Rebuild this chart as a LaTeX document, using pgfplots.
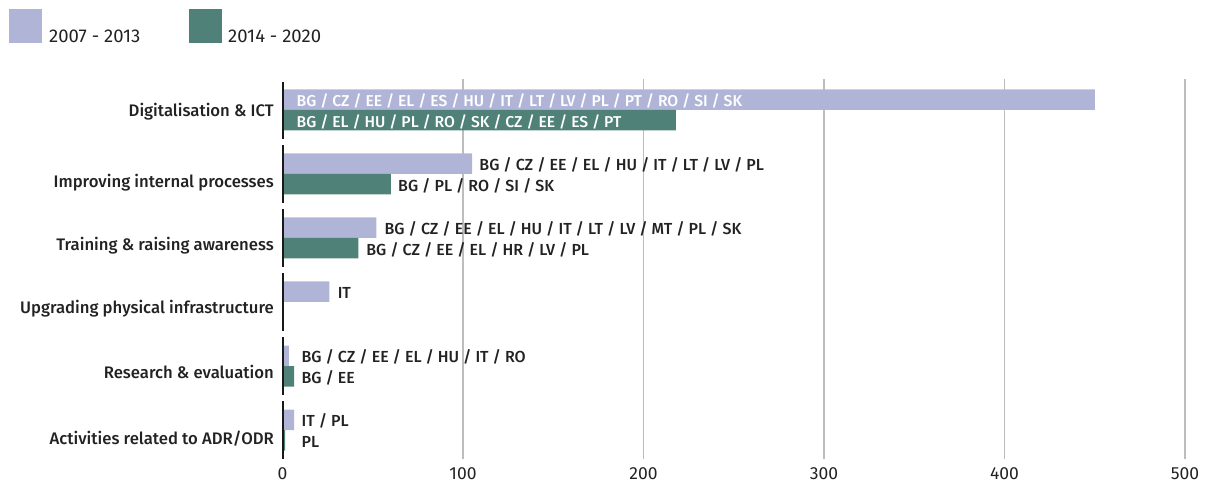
\documentclass[border=0pt]{standalone}
\usepackage{fontspec}
\setmainfont{Fira Sans}
\newfontfamily\medfont{Fira Sans Medium}
\usepackage{pgfplots}
\pgfplotsset{compat=1.18}
\definecolor{lightbar}{HTML}{B0B5D8}
\definecolor{darkbar}{HTML}{4F8179}
\definecolor{txt}{HTML}{222222}
\definecolor{gridc}{HTML}{BDBDBD}
\newcommand{\lab}{\medfont\fontsize{16}{18}\selectfont}
\newcommand{\wlab}{\medfont\fontsize{15.7}{18}\selectfont}
\newcommand{\cat}{\medfont\fontsize{16.7}{18}\selectfont}
\newcommand{\leg}{\fontsize{18.5}{20}\selectfont}
\newcommand{\tck}{\fontsize{17.5}{20}\selectfont}

\begin{document}
\begin{tikzpicture}[x=1pt,y=1pt]
\useasboundingbox (0,0) rectangle (1209,483);
% legend
\fill[lightbar] (9.3,440.3) rectangle (42.3,473.7);
\node[anchor=base west, inner sep=0pt, text=txt, font=\leg] at (49,440.7) {2007 - 2013};
\fill[darkbar] (189,440.3) rectangle (221.5,473.7);
\node[anchor=base west, inner sep=0pt, text=txt, font=\leg] at (228,440.7) {2014 - 2020};

\begin{axis}[
  at={(282.5pt,24pt)}, anchor=south west,
  scale only axis, width=902.5pt, height=380pt,
  xmin=0, xmax=500, ymin=-0.453, ymax=5.484,
  axis line style={draw=none},
  major tick length=0pt,
  xtick={100,200,300,400,500},
  extra x ticks={0}, extra x tick style={grid=none},
  xmajorgrids, grid style={gridc, line width=1.2pt},
  ytick={-0.234,0.797,1.828,2.797,3.781,4.898},
  yticklabels={Activities related to ADR/ODR, Research \& evaluation, Upgrading physical infrastructure, Training \& raising awareness, Improving internal processes, Digitalisation \& ICT},
  yticklabel style={anchor=base east, inner sep=0pt, xshift=-8.5pt, font=\cat},
  xticklabel style={anchor=base, inner sep=0pt, yshift=-20pt, font=\tck},
  tick label style={text=txt},
  /pgf/number format/assume math mode=true,
  clip=false,
]
% bars
\addplot[xbar, bar width=20.5pt, bar shift=10.25pt, fill=lightbar, draw=none]
  coordinates {(450,5) (105,4) (52,3) (26,2) (3.5,1) (6.5,0)};
\addplot[xbar, bar width=20.5pt, bar shift=-10.25pt, fill=darkbar, draw=none]
  coordinates {(218,5) (60,4) (42,3) (0,2) (6.5,1) (1.5,0)};

% broken left axis line, one piece per group
\draw[black!90, line width=2pt] (axis cs:0,4.55) -- (axis cs:0,5.44);
\draw[black!90, line width=2pt] (axis cs:0,3.55) -- (axis cs:0,4.45);
\draw[black!90, line width=2pt] (axis cs:0,2.55) -- (axis cs:0,3.45);
\draw[black!90, line width=2pt] (axis cs:0,1.55) -- (axis cs:0,2.45);
\draw[black!90, line width=2pt] (axis cs:0,0.55) -- (axis cs:0,1.45);
\draw[black!90, line width=2pt] (axis cs:0,-0.45) -- (axis cs:0,0.45);

% country labels
\addplot[draw=none, mark=none, nodes near coords, point meta=explicit symbolic,
  every node near coord/.append style={anchor=base west, inner sep=0pt, yshift=-7.2pt, text=white, font=\wlab}]
  coordinates {
    (7.75,5.16)[BG / CZ / EE / EL / ES / HU / IT / LT / LV / PL / PT / RO / SI / SK]
    (7.75,4.84)[BG / EL / HU / PL / RO / SK / CZ / EE / ES / PT]
  };
\addplot[draw=none, mark=none, nodes near coords, point meta=explicit symbolic,
  every node near coord/.append style={anchor=base west, inner sep=0pt, yshift=-7.2pt, text=txt, font=\lab}]
  coordinates {
    (109,4.16)[BG / CZ / EE / EL / HU / IT / LT / LV / PL]
    (64,3.84)[BG / PL / RO / SI / SK]
    (56.5,3.16)[BG / CZ / EE / EL / HU / IT / LT / LV / MT / PL / SK]
    (46.3,2.84)[BG / CZ / EE / EL / HR / LV / PL]
    (30.5,2.16)[IT]
    (10.5,1.16)[BG / CZ / EE / EL / HU / IT / RO]
    (10.5,0.84)[BG / EE]
    (10.5,0.16)[IT / PL]
    (10.5,-0.16)[PL]
  };
\end{axis}
\end{tikzpicture}
\end{document}
